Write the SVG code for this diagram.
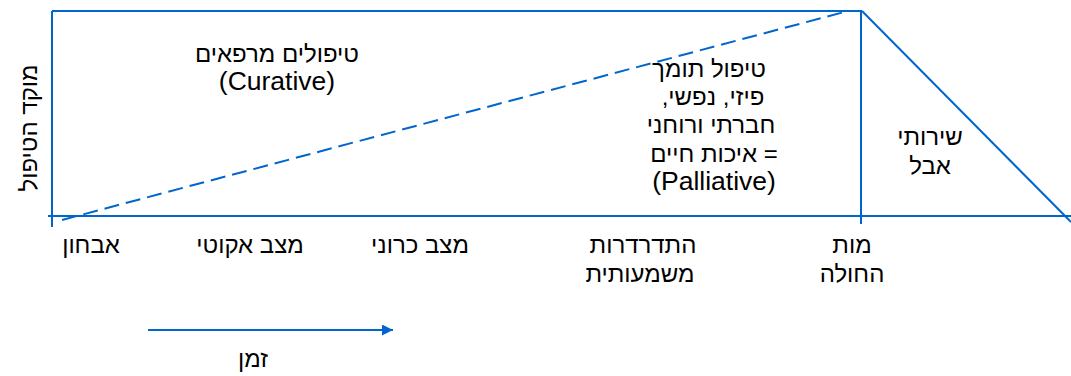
<svg xmlns="http://www.w3.org/2000/svg" width="1071" height="376" viewBox="0 0 1071 376">
<style>
  .ln{stroke:#0066CC;stroke-width:2;fill:none}
  .dash{stroke:#0066CC;stroke-width:2;fill:none;stroke-dasharray:15 7}
  .t{font-family:"Liberation Sans",Arial,sans-serif;font-size:24px;fill:#000;text-anchor:middle}
  .lat{font-size:26.5px}
</style>
<defs>
  <marker id="ah" viewBox="0 0 10 10" refX="10" refY="5" markerWidth="5.5" markerHeight="5.5" orient="auto" markerUnits="strokeWidth">
    <path d="M0,0 L10,5 L0,10 Z" fill="#0066CC"/>
  </marker>
</defs>
<rect width="1071" height="376" fill="#fff"/>
<g id="connectors">
  <line class="ln" x1="52" y1="11" x2="52" y2="227"/>
  <line class="ln" x1="52" y1="11" x2="862" y2="11"/>
  <line class="ln" x1="48" y1="216" x2="1071" y2="216"/>
  <line class="ln" x1="861" y1="11" x2="861" y2="224"/>
  <line class="ln" x1="862" y1="11" x2="1071" y2="222"/>
  <line class="dash" x1="62" y1="220" x2="848" y2="11"/>
  <line class="ln" x1="148" y1="330" x2="393" y2="330" stroke-width="2.5" marker-end="url(#ah)"/>
</g>
<g id="yaxis">
  <text class="t" transform="translate(37,128) rotate(-90)">מוקד הטיפול</text>
</g>
<g id="curative">
  <text class="t" x="277" y="62">טיפולים מרפאים</text>
  <text class="t lat" x="277" y="90">(Curative)</text>
</g>
<g id="palliative">
  <text class="t" x="709" y="77">טיפול תומך</text>
  <text class="t" x="713" y="105">&#x200F;פיזי, נפשי,&#x200F;</text>
  <text class="t" x="711" y="133">חברתי ורוחני</text>
  <text class="t" x="714" y="162">&#x200F;= איכות חיים</text>
  <text class="t lat" x="714" y="190">(Palliative)</text>
</g>
<g id="bereavement">
  <text class="t" x="930" y="145">שירותי</text>
  <text class="t" x="930" y="174">אבל</text>
</g>
<g id="stages">
  <text class="t" x="91" y="253">אבחון</text>
  <text class="t" x="250" y="253">מצב אקוטי</text>
  <text class="t" x="420" y="253">מצב כרוני</text>
  <text class="t" x="643" y="253">התדרדרות</text>
  <text class="t" x="640" y="282">משמעותית</text>
  <text class="t" x="852" y="253">מות</text>
  <text class="t" x="852" y="282">החולה</text>
</g>
<g id="time">
  <text class="t" x="253" y="367">זמן</text>
</g>
</svg>
